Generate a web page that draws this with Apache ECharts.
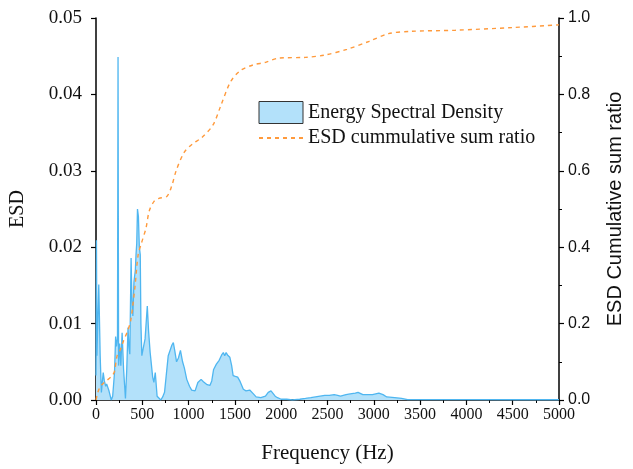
<!DOCTYPE html>
<html>
<head>
<meta charset="utf-8">
<script src="https://cdn.jsdelivr.net/npm/echarts@6/dist/echarts.min.js"></script>
<style>html,body{margin:0;padding:0;background:#fff;overflow:hidden;}#c{width:633px;height:469px;}</style>
</head>
<body>
<div id="c"></div>
<script>
// Energy Spectral Density (frequency in Hz, ESD)
const esdFreq = [0,5,10,30,45,58,78,90,105,115,125,140,165,180,200,212,222,232,238,244,256,268,282,298,318,332,346,355,365,379,388,398,410,425,432,440,448,458,468,478,485,495,515,530,554,568,585,600,612,625,640,660,700,720,740,780,820,835,850,870,890,912,935,954,980,1010,1033,1070,1100,1135,1160,1200,1230,1250,1270,1300,1330,1357,1375,1390,1405,1420,1445,1465,1481,1505,1530,1557,1591,1620,1660,1700,1729,1780,1830,1860,1890,1910,1935,1960,2000,2060,2120,2200,2262,2320,2370,2420,2470,2520,2572,2610,2640,2700,2745,2800,2830,2882,2940,2985,3055,3100,3140,3226,3300,3365,3500,4000,4500,5000];
const esdValue = [0.0032,0.0209,0.0058,0.0151,0.0058,0.0010,0.0036,0.0025,0.0018,0.0021,0.0020,0.0012,0.0000,0.0005,0.0036,0.0083,0.0070,0.0080,0.0449,0.0045,0.0074,0.0045,0.0088,0.0040,0.0002,0.0040,0.0095,0.0070,0.0060,0.0186,0.0130,0.0110,0.0155,0.0170,0.0190,0.0205,0.0250,0.0240,0.0200,0.0190,0.0100,0.0058,0.0071,0.0080,0.0123,0.0090,0.0062,0.0062,0.0030,0.0023,0.0036,0.0005,0.0000,0.0004,0.0010,0.0058,0.0072,0.0075,0.0065,0.0050,0.0055,0.0065,0.0050,0.0042,0.0027,0.0018,0.0013,0.0012,0.0023,0.0027,0.0024,0.0020,0.0019,0.0025,0.0040,0.0047,0.0052,0.0059,0.0062,0.0058,0.0062,0.0059,0.0056,0.0045,0.0032,0.0031,0.0030,0.0024,0.0014,0.0012,0.0013,0.0008,0.0004,0.0003,0.0005,0.0010,0.0012,0.0011,0.0005,0.0003,0.0001,0.0001,0.0000,0.0001,0.0002,0.0003,0.0004,0.0005,0.0006,0.0006,0.0007,0.0006,0.0005,0.0007,0.0008,0.0009,0.0010,0.0007,0.0007,0.0007,0.0009,0.0007,0.0004,0.0003,0.0002,0.00005,0.00005,0.00005,0.00003,0.00003];
// ESD cumulative sum ratio
const cumFreq = [0,20,45,72,175,200,227,260,296,340,375,420,455,490,540,575,627,679,765,816,868,954,1040,1143,1264,1350,1453,1557,1694,1832,1970,2262,2469,2710,2951,3158,3400,3881,4500,5000];
const cumRatio = [0,0.020,0.035,0.042,0.064,0.075,0.115,0.130,0.154,0.180,0.208,0.295,0.380,0.410,0.450,0.495,0.520,0.528,0.533,0.559,0.602,0.649,0.670,0.687,0.720,0.772,0.833,0.862,0.877,0.884,0.895,0.897,0.903,0.918,0.939,0.959,0.965,0.968,0.975,0.982];
const xTicks = {min:0, max:5000, interval:500};
const yLeftTicks = {min:0, max:0.05, interval:0.01};
const yRightTicks = {min:0, max:1, interval:0.2};

const esdData = esdFreq.map((f,i)=>[f, esdValue[i]]);
const cumData = cumFreq.map((f,i)=>[f, cumRatio[i]]);

const serif = 'Liberation Serif';
const sans = 'Liberation Sans';
const axisLine = {show:true, lineStyle:{color:'#000', width:1.5}};

const chart = echarts.init(document.getElementById('c'), null, {renderer:'canvas', width:633, height:469});
chart.setOption({
  animation:false,
  backgroundColor:'#fff',
  grid:{left:91, right:58, top:18, bottom:61},
  legend:{
    orient:'vertical', left:253, top:96, itemWidth:44, itemHeight:22, itemGap:4,
    textStyle:{fontFamily:serif, fontSize:20, color:'#111'},
    data:[
      {name:'Energy Spectral Density', icon:'rect', itemStyle:{color:'#b3e1fa', borderColor:'#333', borderWidth:1}},
      {name:'ESD cummulative sum ratio', itemStyle:{opacity:0}}
    ]
  },
  xAxis:{
    type:'value', min:xTicks.min, max:xTicks.max, interval:xTicks.interval,
    axisLine:axisLine,
    axisTick:{show:true, inside:false, length:5, lineStyle:{color:'#000', width:1.2}},
    minorTick:{show:true, splitNumber:2, length:3, lineStyle:{color:'#000', width:1}},
    splitLine:{show:false},
    axisLabel:{fontFamily:serif, fontSize:16, color:'#111', margin:7, formatter:v=>String(v)},
    name:'Frequency (Hz)', nameLocation:'middle', nameGap:43,
    nameTextStyle:{fontFamily:serif, fontSize:21, color:'#111'}
  },
  yAxis:[{
    type:'value', min:yLeftTicks.min, max:yLeftTicks.max, interval:yLeftTicks.interval,
    axisLine:axisLine,
    axisTick:{show:true, inside:false, length:5, lineStyle:{color:'#000', width:1.2}},
    splitLine:{show:false},
    axisLabel:{fontFamily:serif, fontSize:19, color:'#111', margin:14, formatter:v=>v.toFixed(2)},
    name:'ESD', nameLocation:'middle', nameGap:68, nameRotate:90,
    nameTextStyle:{fontFamily:serif, fontSize:20, color:'#111'}
  },{
    type:'value', position:'right', min:yRightTicks.min, max:yRightTicks.max, interval:yRightTicks.interval,
    axisLine:axisLine,
    axisTick:{show:true, inside:false, length:5, lineStyle:{color:'#000', width:1.2}},
    minorTick:{show:true, splitNumber:2, length:3, lineStyle:{color:'#000', width:1}},
    splitLine:{show:false},
    axisLabel:{fontFamily:sans, fontSize:16, color:'#111', margin:9, formatter:v=>v.toFixed(1)},
    name:'ESD Cumulative sum ratio', nameLocation:'middle', nameGap:46, nameRotate:90,
    nameTextStyle:{fontFamily:sans, fontSize:20, color:'#111'}
  }],
  series:[{
    name:'Energy Spectral Density', type:'line', data:esdData, symbol:'none',
    lineStyle:{color:'#4fb6f0', width:1.3},
    itemStyle:{color:'#b3e1fa'},
    areaStyle:{color:'#b3e1fa', opacity:1},
    z:2
  },{
    name:'ESD cummulative sum ratio', type:'line', yAxisIndex:1, data:cumData, symbol:'none', smooth:0.3,
    lineStyle:{color:'#ff9a3c', width:1.4, type:[4,4]},
    itemStyle:{color:'#ff9a3c'},
    z:3
  }]
});
</script>
</body>
</html>
